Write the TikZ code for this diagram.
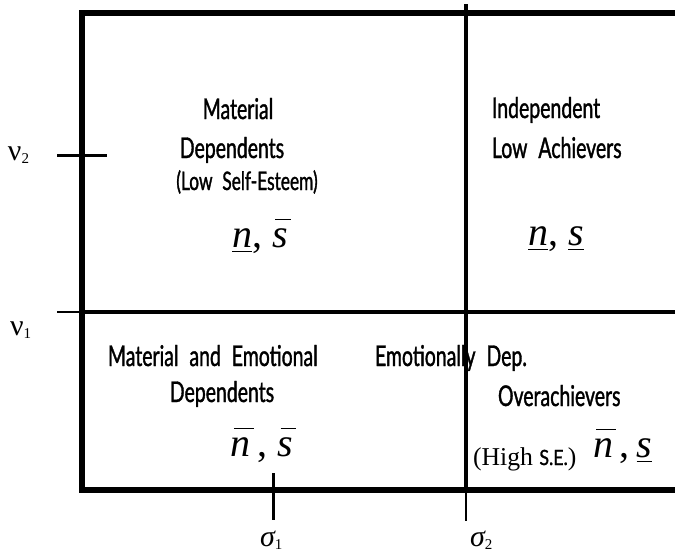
\documentclass[tikz,border=0pt]{standalone}
\usepackage{fontspec}
\setmainfont{Liberation Serif}
\newfontfamily\gill[FakeStretch=0.68,WordSpace=2.2,FakeBold=1.2]{Lato}
\newfontfamily\gillw[FakeStretch=0.85,FakeBold=1.2]{Lato}
\newcommand\gsz{\gill\fontsize{28.6}{34}\selectfont}
\newcommand\gsm{\gill\fontsize{25.5}{30}\selectfont}
\newcommand\tmbig{\fontsize{40}{48}\selectfont}
\newcommand\ulx[1]{\setbox0=\hbox{\itshape #1}\rlap{\rule[-5pt]{\wd0}{1.4pt}}\box0}
\newcommand\olx[1]{\setbox0=\hbox{\itshape #1}\rlap{\hspace{3pt}\rule[27pt]{\wd0}{1.4pt}}\box0}
\newcommand\subn[1]{\raisebox{-3pt}{\fontsize{15}{17}\selectfont #1}}
\begin{document}
\begin{tikzpicture}[x=1pt,y=-1pt,
  lbl/.style={inner sep=0pt,outer sep=0pt},
  frame/.style={line width=6pt},
  midline/.style={line width=4.5pt},
  vline/.style={line width=4pt},
  tick/.style={line width=2.5pt}]
\useasboundingbox (0,0) rectangle (675,555);
\clip (0,0) rectangle (675,555);
\fill[white] (0,0) rectangle (675,555);
% coordinates
\coordinate (tl) at (82,12.5);
\coordinate (bl) at (82,490);
\coordinate (tr) at (700,12.5);
\coordinate (br) at (700,490);
\coordinate (ml) at (82,312);
\coordinate (mr) at (700,312);
\coordinate (v1a) at (57,312);
\coordinate (v2a) at (57,155.7);
\coordinate (v2b) at (107,155.7);
\coordinate (s2top) at (466,4);
\coordinate (s2mid) at (466,490);
\coordinate (s2bot) at (466,521);
\coordinate (s1top) at (273.5,473);
\coordinate (s1bot) at (273.5,520);
% frame
\draw[frame,line cap=rect] (tr) -- (tl) -- (bl) -- (br);
\draw[midline] (ml) -- (mr);
\draw[tick] (v1a) -- (ml);
\draw[tick] (v2a) -- (v2b);
\draw[vline] (s2top) -- (s2mid);
\draw[tick] (s2mid) -- (s2bot);
\draw[line width=3pt] (s1top) -- (s1bot);
% axis labels
\node[lbl,anchor=base west] (nu2) at (8,160) {\fontsize{30}{34}\selectfont ν\subn{2}};
\node[lbl,anchor=base west] (nu1) at (10,335) {\fontsize{30}{34}\selectfont ν\subn{1}};
\node[lbl,anchor=base west] (sig1) at (260,546) {\fontsize{30}{34}\selectfont\itshape σ\subn{\upshape 1}};
\node[lbl,anchor=base west] (sig2) at (470,546) {\fontsize{30}{34}\selectfont\itshape σ\subn{\upshape 2}};
% top-left
\node[lbl,anchor=base] (t1) at (238,119) {\gsz Material};
\node[lbl,anchor=base] (t2) at (232,158) {\gsz Dependents};
\node[lbl,anchor=base] (t3) at (247,190) {\gsm (Low Self-Esteem)};
\node[lbl,anchor=base] (m1) at (260,247) {\tmbig\ulx{n}, \olx{s}};
% top-right
\node[lbl,anchor=base west] (t4) at (492,118) {\gsz Independent};
\node[lbl,anchor=base west] (t5) at (492,158) {\gsz Low Achievers};
\node[lbl,anchor=base] (m2) at (556,245) {\tmbig\ulx{n}, \ulx{s}};
% bottom-left
\node[lbl,anchor=base west] (t6) at (108,366) {\gsz Material and Emotional};
\node[lbl,anchor=base] (t7) at (222,402) {\gsz Dependents};
\node[lbl,anchor=base] (m3) at (262,456) {\tmbig\olx{n}\,, \olx{s}};
% bottom-right
\node[lbl,anchor=base west] (t8) at (375,366) {\gsz Emotionally Dep.};
\node[lbl,anchor=base west] (t9) at (498,406) {\gsz Overachievers};
\node[lbl,anchor=base west] (hse) at (473,465) {\fontsize{25.7}{30}\selectfont (High {\gillw\fontsize{21}{24}\selectfont S.E.})};
\node[lbl,anchor=base west] (m4) at (593,457) {\tmbig\olx{n}\,,\kern7pt\ulx{s}};
\end{tikzpicture}
\end{document}
